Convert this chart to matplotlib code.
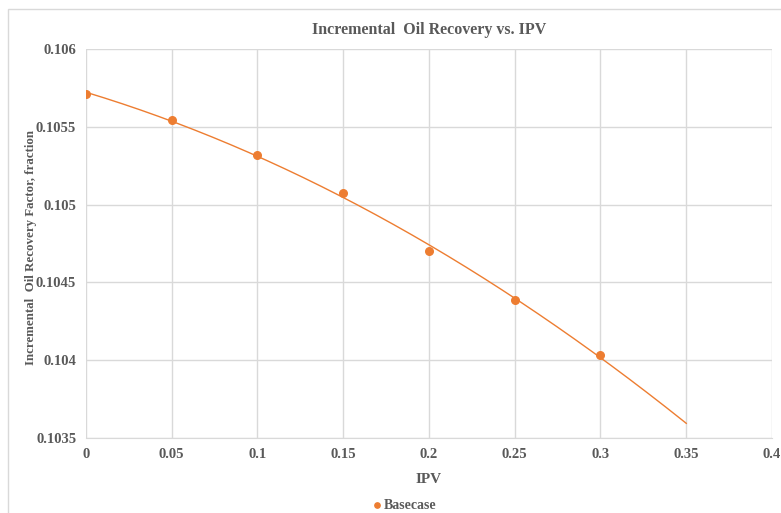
import numpy as np
import matplotlib.pyplot as plt
from matplotlib.patches import Rectangle

ipv = [0, 0.05, 0.1, 0.15, 0.2, 0.25, 0.3]
recovery = [0.10571, 0.105544, 0.105319, 0.105075, 0.104702, 0.104387, 0.104033]
x_ticks = [0, 0.05, 0.1, 0.15, 0.2, 0.25, 0.3, 0.35, 0.4]
x_labels = ['0', '0.05', '0.1', '0.15', '0.2', '0.25', '0.3', '0.35', '0.4']
y_ticks = [0.1035, 0.104, 0.1045, 0.105, 0.1055, 0.106]
y_labels = ['0.1035', '0.104', '0.1045', '0.105', '0.1055', '0.106']
trend_end = 0.35

plt.rcParams['font.family'] = ['Liberation Serif', 'DejaVu Serif']
gray = '#595959'
orange = '#ED7D31'

fig = plt.figure(figsize=(7.81, 5.13), dpi=100)
ax = fig.add_axes([0.110, 0.1462, 0.8785, 0.7583])

# polynomial trendline (order 2), extended forward like Excel
coef = np.polyfit(ipv, recovery, 2)
xt = np.linspace(0, trend_end, 200)
ax.plot(xt, np.polyval(coef, xt), color=orange, lw=1, zorder=2)
ax.scatter(ipv, recovery, color=orange, s=30, zorder=3, label='Basecase')

ax.set_xlim(0, 0.4)
ax.set_ylim(0.1035, 0.106)
ax.set_xticks(x_ticks)
ax.set_xticklabels(x_labels)
ax.set_yticks(y_ticks)
ax.set_yticklabels(y_labels)
ax.grid(True, color='#d9d9d9', lw=1)
ax.set_axisbelow(True)
for s in ['top', 'right', 'left']:
    ax.spines[s].set_visible(False)
ax.spines['bottom'].set_color('#d9d9d9')
ax.tick_params(length=0, labelsize=10.5, labelcolor=gray, pad=7)
for lab in ax.get_xticklabels() + ax.get_yticklabels():
    lab.set_fontweight('bold')

ax.set_title('Incremental  Oil Recovery vs. IPV', fontsize=11.5, fontweight='bold',
             color=gray, pad=11)
ax.set_xlabel('IPV', fontsize=11, fontweight='bold', color=gray, labelpad=9)
ax.set_ylabel('Incremental  Oil Recovery Factor, fraction', fontsize=9.3,
              fontweight='bold', color=gray)
ax.yaxis.set_label_coords(-0.072, 0.49)

leg = fig.legend(loc='center', bbox_to_anchor=(0.518, 0.015), frameon=False,
                 fontsize=10, handlelength=0.6, handletextpad=0.2, markerscale=0.7)
for t in leg.get_texts():
    t.set_color(gray)
    t.set_fontweight('bold')

fig.patches.append(Rectangle((8 / 781, -0.1), 1.2, 1.1 - 9 / 513, transform=fig.transFigure,
                             fill=False, edgecolor='#d9d9d9', lw=1))

fig.savefig('out.png', dpi=100)
